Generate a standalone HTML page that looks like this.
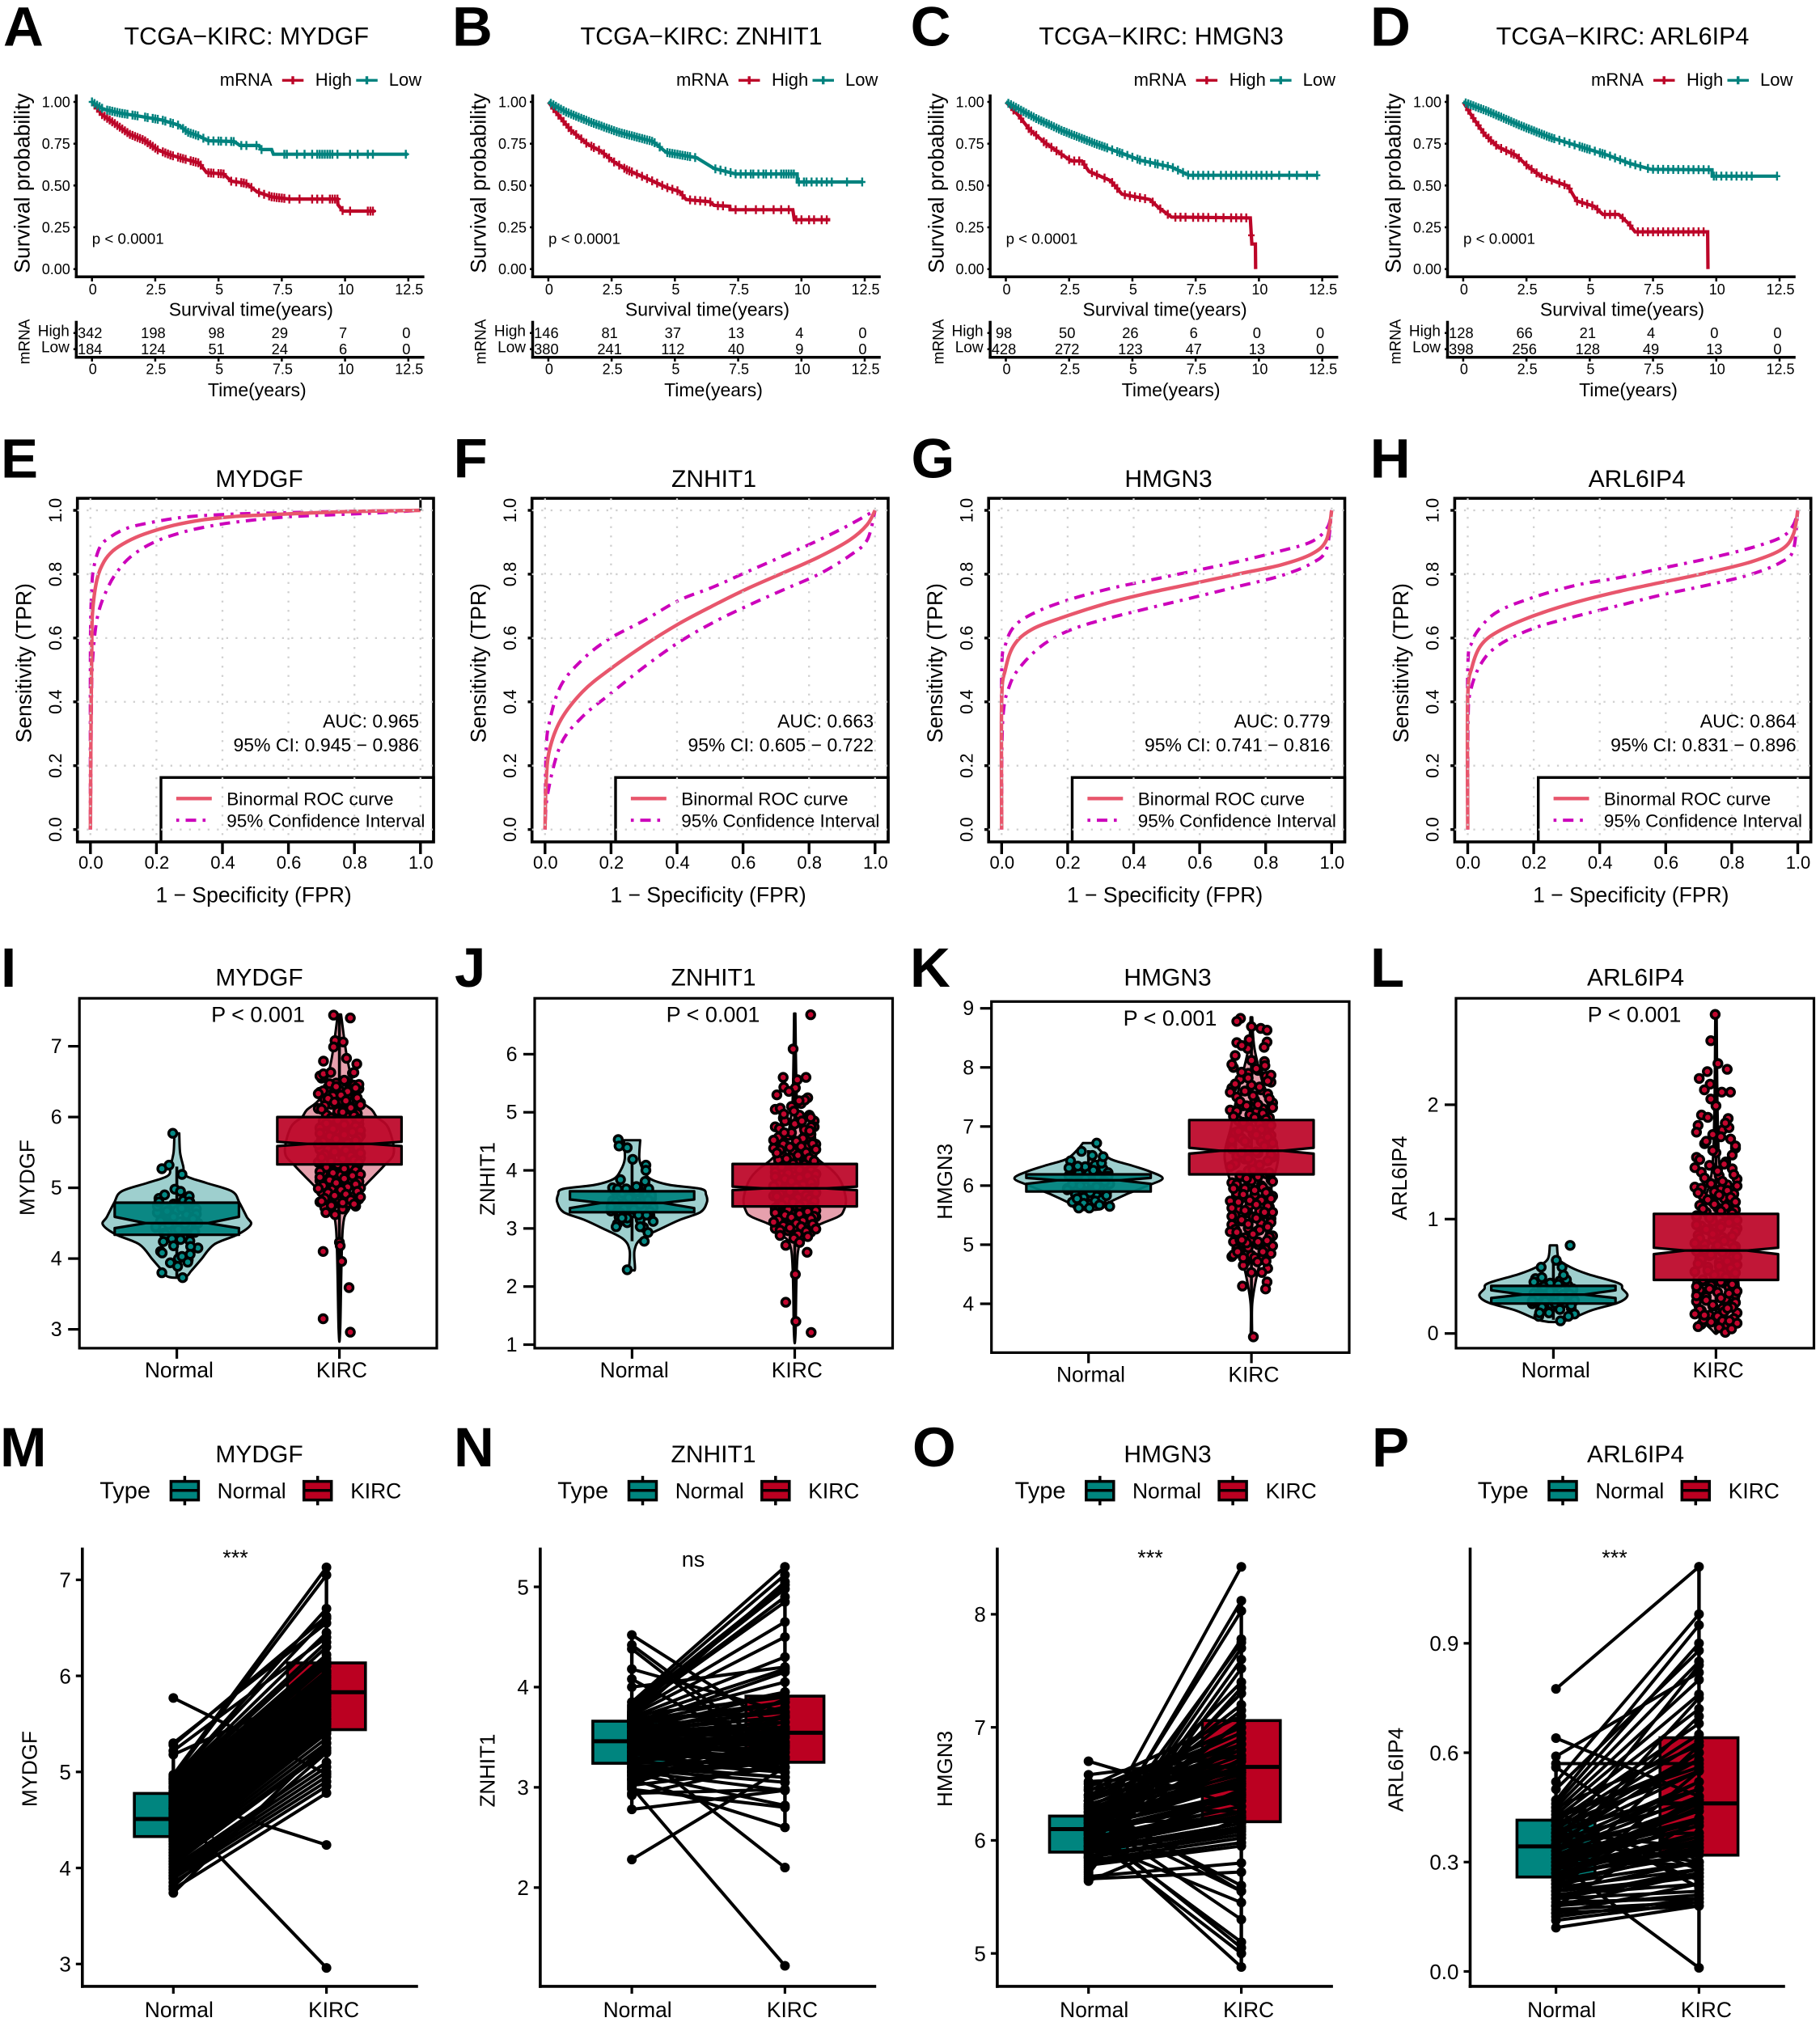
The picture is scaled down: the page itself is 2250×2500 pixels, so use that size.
<!DOCTYPE html>
<html lang="en">
<head>
<meta charset="utf-8">
<title>KIRC gene expression figure</title>
<style>
html,body{margin:0;padding:0;background:#fff;}
svg{display:block;font-family:"Liberation Sans",Arial,sans-serif;}
.ltr{font-weight:bold;font-size:69px;fill:#000;}
.tt{font-size:30px;text-anchor:middle;fill:#000;}
.t1{font-size:30.5px;text-anchor:middle;fill:#000;}
.lg{font-size:22px;fill:#000;}
.axt{font-size:26.5px;text-anchor:middle;fill:#000;}
.axs{font-size:23px;text-anchor:middle;fill:#000;}
.sm{font-size:19px;fill:#000;}
.p1{font-size:18.7px;fill:#000;}
.roc{font-size:22.5px;fill:#000;}
.auc{font-size:23px;fill:#000;text-anchor:end;}
.typ{font-size:29px;fill:#000;}
.key{font-size:26.4px;fill:#000;}
.stat{font-size:27px;text-anchor:middle;fill:#000;}
</style>
</head>
<body>
<svg id="figure" xmlns="http://www.w3.org/2000/svg" width="2250" height="2500" viewBox="0 0 2250 2500">
<rect width="2250" height="2500" fill="#fff"/>

<!-- Row 1: survival -->
<g id="km-a" transform="translate(-1.2,0)">
<text class="ltr" x="5.2" y="56.7">A</text>
<text class="t1" x="306" y="55">TCGA−KIRC: MYDGF</text>
<text class="lg" x="273" y="106">mRNA</text>
<text class="lg" x="391" y="106">High</text>
<text class="lg" x="482" y="106">Low</text>
<text class="axt" transform="translate(37.7,226.5) rotate(-90)">Survival probability</text>
<text class="p1" x="115" y="301.7">p &lt; 0.0001</text>
<text class="axs" x="311.5" y="390.7">Survival time(years)</text>
<text class="sm" text-anchor="middle" transform="translate(37.7,422.5) rotate(-90)">mRNA</text>
<text class="sm" x="87" y="415.7" text-anchor="end">High</text>
<text class="sm" x="87" y="435.7" text-anchor="end">Low</text>
<text class="axs" x="319" y="490">Time(years)</text>
</g>
<g id="km-b" transform="translate(563,0)">
<text class="ltr" x="-4" y="56.7">B</text>
<text class="t1" x="304" y="55">TCGA−KIRC: ZNHIT1</text>
<text class="lg" x="273" y="106">mRNA</text>
<text class="lg" x="391" y="106">High</text>
<text class="lg" x="482" y="106">Low</text>
<text class="axt" transform="translate(37.7,226.5) rotate(-90)">Survival probability</text>
<text class="p1" x="115" y="301.7">p &lt; 0.0001</text>
<text class="axs" x="311.5" y="390.7">Survival time(years)</text>
<text class="sm" text-anchor="middle" transform="translate(37.7,422.5) rotate(-90)">mRNA</text>
<text class="sm" x="87" y="415.7" text-anchor="end">High</text>
<text class="sm" x="87" y="435.7" text-anchor="end">Low</text>
<text class="axs" x="319" y="490">Time(years)</text>
</g>
<g id="km-c" transform="translate(1128.6,0)">
<text class="ltr" x="-3" y="56.7">C</text>
<text class="t1" x="307" y="55">TCGA−KIRC: HMGN3</text>
<text class="lg" x="273" y="106">mRNA</text>
<text class="lg" x="391" y="106">High</text>
<text class="lg" x="482" y="106">Low</text>
<text class="axt" transform="translate(37.7,226.5) rotate(-90)">Survival probability</text>
<text class="p1" x="115" y="301.7">p &lt; 0.0001</text>
<text class="axs" x="311.5" y="390.7">Survival time(years)</text>
<text class="sm" text-anchor="middle" transform="translate(37.7,422.5) rotate(-90)">mRNA</text>
<text class="sm" x="87" y="415.7" text-anchor="end">High</text>
<text class="sm" x="87" y="435.7" text-anchor="end">Low</text>
<text class="axs" x="319" y="490">Time(years)</text>
</g>
<g id="km-d" transform="translate(1694,0)">
<text class="ltr" x="0" y="56.7">D</text>
<text class="t1" x="312" y="55">TCGA−KIRC: ARL6IP4</text>
<text class="lg" x="273" y="106">mRNA</text>
<text class="lg" x="391" y="106">High</text>
<text class="lg" x="482" y="106">Low</text>
<text class="axt" transform="translate(37.7,226.5) rotate(-90)">Survival probability</text>
<text class="p1" x="115" y="301.7">p &lt; 0.0001</text>
<text class="axs" x="311.5" y="390.7">Survival time(years)</text>
<text class="sm" text-anchor="middle" transform="translate(37.7,422.5) rotate(-90)">mRNA</text>
<text class="sm" x="87" y="415.7" text-anchor="end">High</text>
<text class="sm" x="87" y="435.7" text-anchor="end">Low</text>
<text class="axs" x="319" y="490">Time(years)</text>
</g>

<!-- Row 2: ROC -->
<g id="roc-e">
<text class="ltr" x="1" y="590.4">E</text>
<text class="tt" x="320.5" y="602">MYDGF</text>
<text class="auc" x="518" y="899.3">AUC: 0.965</text>
<text class="auc" x="518" y="929.2">95% CI: 0.945 − 0.986</text>
<text class="roc" x="280.2" y="995.7">Binormal ROC curve</text>
<text class="roc" x="280.2" y="1022.5">95% Confidence Interval</text>
<text class="axt" x="313.6" y="1115.5">1 − Specificity (FPR)</text>
<text class="axt" transform="translate(38.3,819.7) rotate(-90)">Sensitivity (TPR)</text>
</g>
<g id="roc-f" transform="translate(562,0)">
<text class="ltr" x="-1.4" y="590.4">F</text>
<text class="tt" x="320.5" y="602">ZNHIT1</text>
<text class="auc" x="518" y="899.3">AUC: 0.663</text>
<text class="auc" x="518" y="929.2">95% CI: 0.605 − 0.722</text>
<text class="roc" x="280.2" y="995.7">Binormal ROC curve</text>
<text class="roc" x="280.2" y="1022.5">95% Confidence Interval</text>
<text class="axt" x="313.6" y="1115.5">1 − Specificity (FPR)</text>
<text class="axt" transform="translate(38.3,819.7) rotate(-90)">Sensitivity (TPR)</text>
</g>
<g id="roc-g" transform="translate(1126.5,0)">
<text class="ltr" x="0" y="590.4">G</text>
<text class="tt" x="318" y="602">HMGN3</text>
<text class="auc" x="518" y="899.3">AUC: 0.779</text>
<text class="auc" x="518" y="929.2">95% CI: 0.741 − 0.816</text>
<text class="roc" x="280.2" y="995.7">Binormal ROC curve</text>
<text class="roc" x="280.2" y="1022.5">95% Confidence Interval</text>
<text class="axt" x="313.6" y="1115.5">1 − Specificity (FPR)</text>
<text class="axt" transform="translate(38.3,819.7) rotate(-90)">Sensitivity (TPR)</text>
</g>
<g id="roc-h" transform="translate(1702.7,0)">
<text class="ltr" x="-9" y="590.4">H</text>
<text class="tt" x="321" y="602">ARL6IP4</text>
<text class="auc" x="518" y="899.3">AUC: 0.864</text>
<text class="auc" x="518" y="929.2">95% CI: 0.831 − 0.896</text>
<text class="roc" x="280.2" y="995.7">Binormal ROC curve</text>
<text class="roc" x="280.2" y="1022.5">95% Confidence Interval</text>
<text class="axt" x="313.6" y="1115.5">1 − Specificity (FPR)</text>
<text class="axt" transform="translate(38.3,819.7) rotate(-90)">Sensitivity (TPR)</text>
</g>

<!-- Row 3: violin + box -->
<g id="box-i">
<text class="ltr" x="1" y="1220">I</text>
<text class="tt" x="320.5" y="1218.3">MYDGF</text>
<text class="axt" style="font-size:26px" transform="translate(42.4,1456) rotate(-90)">MYDGF</text>
</g>
<g id="box-j">
<text class="ltr" x="562" y="1220">J</text>
<text class="tt" x="882" y="1218.3">ZNHIT1</text>
<text class="axt" style="font-size:26px" transform="translate(611.5,1457.5) rotate(-90)">ZNHIT1</text>
</g>
<g id="box-k">
<text class="ltr" x="1125" y="1220">K</text>
<text class="tt" x="1443.5" y="1218.3">HMGN3</text>
<text class="axt" style="font-size:26px" transform="translate(1177,1460.8) rotate(-90)">HMGN3</text>
</g>
<g id="box-l">
<text class="ltr" x="1694" y="1220">L</text>
<text class="tt" x="2022" y="1218.3">ARL6IP4</text>
<text class="axt" style="font-size:26px" transform="translate(1739,1456.6) rotate(-90)">ARL6IP4</text>
</g>

<!-- Row 4: paired -->
<g id="pair-m">
<text class="ltr" x="0" y="1813">M</text>
<text class="tt" x="320.5" y="1807.9">MYDGF</text>
<text class="axt" style="font-size:26px" transform="translate(45.7,2187) rotate(-90)">MYDGF</text>
<text class="stat" x="291" y="1935">***</text>
</g>
<g id="pair-n">
<text class="ltr" x="561" y="1813">N</text>
<text class="tt" x="882" y="1807.9">ZNHIT1</text>
<text class="axt" style="font-size:26px" transform="translate(611.5,2189) rotate(-90)">ZNHIT1</text>
<text class="stat" x="857" y="1937">ns</text>
</g>
<g id="pair-o">
<text class="ltr" x="1128" y="1813">O</text>
<text class="tt" x="1443.5" y="1807.9">HMGN3</text>
<text class="axt" style="font-size:26px" transform="translate(1177,2187) rotate(-90)">HMGN3</text>
<text class="stat" x="1422" y="1935">***</text>
</g>
<g id="pair-p">
<text class="ltr" x="1696" y="1813">P</text>
<text class="tt" x="2022" y="1807.9">ARL6IP4</text>
<text class="axt" style="font-size:26px" transform="translate(1734.6,2188) rotate(-90)">ARL6IP4</text>
<text class="stat" x="1996" y="1935">***</text>
</g>

<g id="type-legend-m">
<text class="typ" x="123.2" y="1852.5">Type</text>
<g><line x1="228.4" x2="228.4" y1="1824.8" y2="1861.2" stroke="#000" stroke-width="3.5"/><rect x="211.4" y="1831.6" width="34" height="23" fill="#00857F" stroke="#000" stroke-width="3.5"/><line x1="211.4" x2="245.4" y1="1842.8" y2="1842.8" stroke="#000" stroke-width="3.5"/></g>
<text class="key" x="268.6" y="1852.5">Normal</text>
<g><line x1="392.7" x2="392.7" y1="1824.8" y2="1861.2" stroke="#000" stroke-width="3.5"/><rect x="375.7" y="1831.6" width="34" height="23" fill="#BB0021" stroke="#000" stroke-width="3.5"/><line x1="375.7" x2="409.7" y1="1842.8" y2="1842.8" stroke="#000" stroke-width="3.5"/></g>
<text class="key" x="433.2" y="1852.5">KIRC</text>
</g>
<g id="type-legend-n" transform="translate(566.1,0)">
<text class="typ" x="123.2" y="1852.5">Type</text>
<g><line x1="228.4" x2="228.4" y1="1824.8" y2="1861.2" stroke="#000" stroke-width="3.5"/><rect x="211.4" y="1831.6" width="34" height="23" fill="#00857F" stroke="#000" stroke-width="3.5"/><line x1="211.4" x2="245.4" y1="1842.8" y2="1842.8" stroke="#000" stroke-width="3.5"/></g>
<text class="key" x="268.6" y="1852.5">Normal</text>
<g><line x1="392.7" x2="392.7" y1="1824.8" y2="1861.2" stroke="#000" stroke-width="3.5"/><rect x="375.7" y="1831.6" width="34" height="23" fill="#BB0021" stroke="#000" stroke-width="3.5"/><line x1="375.7" x2="409.7" y1="1842.8" y2="1842.8" stroke="#000" stroke-width="3.5"/></g>
<text class="key" x="433.2" y="1852.5">KIRC</text>
</g>
<g id="type-legend-o" transform="translate(1131.4,0)">
<text class="typ" x="123.2" y="1852.5">Type</text>
<g><line x1="228.4" x2="228.4" y1="1824.8" y2="1861.2" stroke="#000" stroke-width="3.5"/><rect x="211.4" y="1831.6" width="34" height="23" fill="#00857F" stroke="#000" stroke-width="3.5"/><line x1="211.4" x2="245.4" y1="1842.8" y2="1842.8" stroke="#000" stroke-width="3.5"/></g>
<text class="key" x="268.6" y="1852.5">Normal</text>
<g><line x1="392.7" x2="392.7" y1="1824.8" y2="1861.2" stroke="#000" stroke-width="3.5"/><rect x="375.7" y="1831.6" width="34" height="23" fill="#BB0021" stroke="#000" stroke-width="3.5"/><line x1="375.7" x2="409.7" y1="1842.8" y2="1842.8" stroke="#000" stroke-width="3.5"/></g>
<text class="key" x="433.2" y="1852.5">KIRC</text>
</g>
<g id="type-legend-p" transform="translate(1703.6,0)">
<text class="typ" x="123.2" y="1852.5">Type</text>
<g><line x1="228.4" x2="228.4" y1="1824.8" y2="1861.2" stroke="#000" stroke-width="3.5"/><rect x="211.4" y="1831.6" width="34" height="23" fill="#00857F" stroke="#000" stroke-width="3.5"/><line x1="211.4" x2="245.4" y1="1842.8" y2="1842.8" stroke="#000" stroke-width="3.5"/></g>
<text class="key" x="268.6" y="1852.5">Normal</text>
<g><line x1="392.7" x2="392.7" y1="1824.8" y2="1861.2" stroke="#000" stroke-width="3.5"/><rect x="375.7" y="1831.6" width="34" height="23" fill="#BB0021" stroke="#000" stroke-width="3.5"/><line x1="375.7" x2="409.7" y1="1842.8" y2="1842.8" stroke="#000" stroke-width="3.5"/></g>
<text class="key" x="433.2" y="1852.5">KIRC</text>
</g>
</svg>

<script>
/* ---------- Survival data ---------- */
const kmTimeTicks=[0,2.5,5,7.5,10,12.5];
const kmTimeLabels=['0','2.5','5','7.5','10','12.5'];
const kmSurvTicks=[0,0.25,0.5,0.75,1];
const kmSurvLabels=['0.00','0.25','0.50','0.75','1.00'];

const kmAHighT=[0,.4,.92,1.5,2.06,2.58,3.1,3.67,4.24,4.53,5.2,5.5,6.08,6.54,7.1,7.8,9.7,9.72,9.92,11.18];
const kmAHighS=[1,.924,.868,.806,.771,.715,.682,.658,.634,.577,.569,.526,.513,.461,.432,.419,.419,.385,.347,.347];
const kmAHighCensor=[.1,.2,.3,.4,.5,.6,.7,.8,.9,1,1.1,1.2,1.3,1.4,1.5,1.6,1.7,1.8,1.9,2,2.1,2.2,2.3,2.4,2.5,2.6,2.8,2.9,3,3.1,3.2,3.4,3.5,3.6,3.7,3.9,4,4.1,4.2,4.3,4.6,4.7,4.8,5,5.1,5.2,5.5,5.7,5.9,6,6.1,6.3,6.6,6.8,7,7.1,7.2,7.3,7.4,7.5,7.6,7.8,8.2,8.7,8.9,9.1,9.4,9.5,9.6,9.7,9.9,10.2,10.9,11,11.1];
const kmALowT=[0,.46,1.15,1.83,2.75,3.44,3.78,4.24,4.59,5.62,5.85,6.6,6.7,7.1,7.17,12.48];
const kmALowS=[1,.956,.932,.916,.892,.86,.819,.795,.768,.763,.739,.739,.715,.715,.687,.687];
const kmALowCensor=[0,.1,.2,.3,.4,.6,.7,.8,.9,1,1.1,1.2,1.3,1.4,1.6,1.7,1.8,2.1,2.2,2.4,2.5,2.6,2.8,2.9,3.1,3.2,3.4,3.6,3.7,3.8,3.9,4,4.1,4.2,4.4,4.6,4.8,5,5.1,5.3,5.5,5.6,5.9,6.1,6.5,6.7,7.6,7.7,8.1,8.4,8.7,8.9,9,9.1,9.2,9.3,9.4,9.5,9.7,10.2,10.5,10.9,11.1,12.4];
const kmARiskHigh=[342,198,98,29,7,0];
const kmARiskLow=[184,124,51,24,6,0];

const kmBHighT=[0,.34,.86,1.55,2.07,2.59,3.1,3.97,4.66,5.17,5.45,6.38,6.55,7.17,7.18,9.66,9.72,11.14];
const kmBHighS=[1,.932,.835,.747,.706,.642,.594,.537,.489,.465,.416,.403,.381,.376,.355,.355,.295,.295];
const kmBHighCensor=[.2,.4,.6,.8,.9,1.1,1.3,1.5,1.7,1.8,2,2.2,2.4,2.6,2.8,3,3.1,3.2,3.3,3.5,3.7,3.9,4.1,4.3,4.5,4.7,4.9,5.1,5.3,5.6,5.8,6,6.2,6.4,6.7,6.9,7.4,7.8,8.2,8.5,8.9,9.2,9.5,9.8,10,10.3,10.5,10.8,11];
const kmBLowT=[0,.69,1.72,2.76,4.14,4.66,5.86,6.55,7.41,9.83,9.84,12.41];
const kmBLowS=[1,.94,.876,.819,.763,.698,.666,.602,.569,.569,.521,.521];
const kmBLowCensor=[.1,.2,.3,.4,.5,.6,.7,.8,.9,1,1.1,1.2,1.3,1.4,1.5,1.6,1.7,1.8,1.9,2,2.1,2.2,2.3,2.4,2.5,2.6,2.7,2.8,2.9,3,3.1,3.2,3.3,3.4,3.5,3.6,3.7,3.8,3.9,4,4.1,4.2,4.4,4.7,4.8,4.9,5,5.1,5.2,5.3,5.4,5.5,5.6,5.8,6.6,6.8,7,7.2,7.4,7.6,7.8,8,8.1,8.3,8.5,8.6,8.8,9,9.2,9.3,9.4,9.5,9.6,9.7,9.9,10.1,10.2,10.4,10.6,10.8,11,11.2,11.8,12.4];
const kmBRiskHigh=[146,81,37,13,4,0];
const kmBRiskLow=[380,241,112,40,9,0];

const kmCHighT=[0,.52,.93,1.55,2.24,2.59,3,3.28,4.14,4.59,5.69,6.03,6.55,9.66,9.72,9.86,9.87];
const kmCHighS=[1,.916,.835,.755,.682,.647,.647,.585,.529,.448,.416,.368,.311,.306,.15,.15,0];
const kmCHighCensor=[.3,.6,.9,1,1.2,1.5,1.6,1.8,2,2.2,2.5,2.7,2.9,3.1,3.4,3.6,3.9,4.2,4.4,4.7,4.9,5.1,5.3,5.5,5.8,6.1,6.4,6.7,6.9,7.1,7.4,7.6,7.8,8,8.3,8.6,8.9,9.1,9.3,9.5,9.7];
const kmCLowT=[0,1.21,2.24,3.45,4.48,5.34,6.55,7.24,12.34];
const kmCLowS=[1,.9,.827,.755,.698,.65,.61,.561,.561];
const kmCLowCensor=[.1,.2,.3,.4,.5,.6,.7,.8,.9,1,1.1,1.2,1.3,1.4,1.5,1.6,1.7,1.8,1.9,2,2.1,2.2,2.3,2.4,2.5,2.6,2.7,2.8,2.9,3,3.1,3.2,3.3,3.4,3.5,3.6,3.7,3.8,3.9,4,4.2,4.4,4.5,4.6,4.8,5,5.2,5.3,5.5,5.7,5.9,6,6.2,6.4,6.6,6.8,7,7.2,7.4,7.6,7.8,8,8.2,8.5,8.7,8.9,9.1,9.3,9.5,9.7,9.9,10.1,10.3,10.5,10.8,11.2,11.5,11.9,12.3];
const kmCRiskHigh=[98,50,26,6,0,0];
const kmCRiskLow=[428,272,123,47,13,0];

const kmDHighT=[0,.34,.86,1.38,2.07,2.59,3.1,4.14,4.48,5.17,5.52,6.14,6.55,6.79,9.66,9.67];
const kmDHighS=[1,.916,.803,.73,.682,.61,.553,.497,.408,.376,.327,.327,.271,.223,.223,0];
const kmDHighCensor=[.2,.4,.6,.8,1,1.1,1.3,1.5,1.7,1.9,2,2.2,2.5,2.7,2.9,3.1,3.3,3.5,3.8,4,4.2,4.5,4.7,4.9,5.1,5.3,5.6,5.8,6,6.3,6.6,6.9,7.1,7.3,7.5,7.7,7.9,8.1,8.3,8.5,8.7,8.9,9.1,9.3,9.5];
const kmDLowT=[0,1.03,2.24,3.45,4.66,5.69,6.55,7.41,9.83,9.84,12.41];
const kmDLowS=[1,.94,.86,.787,.731,.682,.634,.597,.594,.556,.556];
const kmDLowCensor=[.1,.2,.3,.4,.5,.6,.7,.8,.9,1,1.1,1.2,1.3,1.4,1.5,1.6,1.7,1.8,1.9,2,2.1,2.2,2.3,2.4,2.5,2.6,2.7,2.8,2.9,3,3.1,3.2,3.3,3.4,3.5,3.6,3.8,4,4.2,4.4,4.6,4.7,4.8,4.9,5,5.2,5.4,5.5,5.6,5.8,6,6.2,6.4,6.6,6.8,7,7.3,7.5,7.7,7.9,8.1,8.3,8.5,8.7,8.9,9.1,9.3,9.5,9.7,9.9,10,10.2,10.4,10.6,10.8,11,11.2,11.4,12.4];
const kmDRiskHigh=[128,66,21,4,0,0];
const kmDRiskLow=[398,256,128,49,13,0];

/* ---------- ROC data ---------- */
const rocTicks=[0,.2,.4,.6,.8,1];
const rocLabels=['0.0','0.2','0.4','0.6','0.8','1.0'];

const rocEFpr=[0,.002,.004,.006,.019,.041,.068,.111,.164,.252,.339,.427,.515,.603,.778,1];
const rocETpr=[0,.38,.55,.674,.78,.839,.873,.902,.926,.953,.97,.98,.985,.989,.996,1];
const rocEUpFpr=[0,0,.004,.01,.028,.054,.111,.199,.296,.427,.559,.778,1];
const rocEUpTpr=[0,.577,.752,.82,.883,.912,.944,.965,.98,.988,.992,.997,1];
const rocELoFpr=[0,.003,.006,.015,.028,.05,.076,.12,.19,.278,.375,.471,.603,.734,.866,1];
const rocELoTpr=[0,.383,.519,.626,.693,.752,.8,.853,.899,.931,.953,.967,.98,.986,.992,1];

const rocFFpr=[0,.003,.013,.048,.114,.194,.3,.406,.512,.618,.724,.83,.923,.976,1];
const rocFTpr=[0,.14,.247,.344,.432,.5,.577,.645,.703,.757,.805,.854,.907,.955,1];
const rocFUpFpr=[0,.003,.013,.048,.114,.194,.3,.406,.512,.618,.724,.83,.923,1];
const rocFUpTpr=[0,.238,.335,.451,.533,.597,.655,.718,.761,.81,.858,.907,.955,1];
const rocFLoFpr=[0,.008,.048,.114,.194,.3,.406,.512,.618,.724,.83,.923,.976,1];
const rocFLoTpr=[0,.112,.267,.354,.422,.509,.587,.65,.703,.752,.8,.858,.907,1];

const rocGFpr=[0,0,.011,.037,.09,.183,.316,.448,.581,.714,.846,.939,.984,1];
const rocGTpr=[0,.403,.5,.577,.626,.664,.708,.742,.771,.8,.829,.863,.907,1];
const rocGUpFpr=[0,0,.011,.037,.09,.183,.316,.448,.581,.714,.846,.939,.987,1];
const rocGUpTpr=[0,.49,.577,.635,.674,.713,.752,.781,.81,.839,.873,.902,.946,1];
const rocGLoFpr=[0,.003,.024,.064,.13,.21,.316,.448,.581,.714,.846,.939,.984,1];
const rocGLoTpr=[0,.335,.451,.519,.582,.626,.66,.694,.727,.761,.795,.834,.878,1];

const rocHFpr=[0,0,.013,.04,.093,.198,.331,.463,.595,.728,.86,.952,.987,1];
const rocHTpr=[0,.412,.509,.577,.621,.669,.713,.747,.776,.805,.839,.878,.926,1];
const rocHUpFpr=[0,0,.013,.04,.093,.198,.331,.463,.595,.728,.86,.952,.987,1];
const rocHUpTpr=[0,.5,.587,.635,.684,.727,.766,.79,.82,.849,.883,.917,.955,1];
const rocHLoFpr=[0,.001,.008,.04,.093,.198,.331,.463,.595,.728,.86,.952,.987,1];
const rocHLoTpr=[0,.335,.432,.519,.577,.63,.669,.703,.737,.766,.8,.839,.878,1];

/* ---------- Violin + box data ---------- */
const boxCategories=['Normal','KIRC'];
const sharedJitter=[-.11,.04,-.02,.09,-.07,.12,0,-.12,.06,-.04,.1,-.09,.02,.13,-.05,.07,-.13,.03,-.01,.11,-.08,.05,-.03,.08,-.1,.01,.12,-.06,.06,-.12,.1,-.02,.04,-.09,.13,-.04,0];
const sharedJitter2=[.08,-.12,.03,-.06,.12,-.02,.1,-.1,.05,-.13,.01,.11,-.07,.04,-.03,.13,-.09,.07,-.11,.02,.09,-.05,.12,-.01,.06,-.08,.03,.1,-.12,-.04,.13];

const iTicks=[3,4,5,6,7];
const iNormalBox=[4.336,4.43,4.50,4.59,4.79];
const iKircBox=[5.33,5.59,5.62,5.65,6.0];
const iNormalWhisker=[3.74,5.3];
const iKircWhisker=[2.96,7.44];
const iNormalViolinV=[5.77,5.5,5.3,5.17,5.07,4.95,4.79,4.59,4.48,4.34,4.2,3.99,3.83,3.74];
const iNormalViolinW=[.015,.02,.04,.055,.18,.34,.385,.43,.455,.375,.23,.15,.09,.05];
const iKircViolinV=[7.45,6.8,6.3,6.1,6,5.85,5.5,5.3,4.95,4.7,4.4,3];
const iKircViolinW=[.01,.05,.11,.2,.23,.3,.335,.27,.125,.06,.02,.005];
const iNormalTail=[5.77,5.32,5.27,5.19,4.98,4.9,4.88,4.95,4.8,4.8,4.24,4.27,4.18,4.17,4.03,4.06,3.94,3.95,3.89,3.8,3.73];
const iNormalTailJit=[-.025,-.048,-.092,.032,-.012,-.075,.076,.023,-.11,.076,-.083,.023,-.02,.085,.032,.082,-.04,.067,.005,-.092,.036];
const iNormalBulk=[4.85,4.82,4.77,4.75,4.72,4.7,4.68,4.65,4.62,4.6,4.58,4.55,4.52,4.5,4.48,4.46,4.44,4.42,4.4,4.38,4.36,4.33,4.3,4.25,4.1,4];
const iNormalBulk2=[4.8,4.74,4.71,4.67,4.63,4.59,4.56,4.53,4.49,4.45,4.41,4.37,4.34,4.31,4.28,4.15,4.08,3.98];
const iKircTail=[7.44,7.4,7.08,7.06,6.99,6.79,6.83,6.75,6.61,6.63,6.63,4.65,4.62,4.23,4.18,4.1,3.96,3.59,3.15,2.96];
const iKircTailJit=[-.036,.067,-.027,.023,-.036,-.098,.044,.107,-.098,-.053,.089,-.083,-.027,0,.005,-.1,.014,.059,-.1,.067];
const iKircBulk=[6.55,6.5,6.48,6.45,6.42,6.4,6.38,6.35,6.32,6.3,6.28,6.25,6.22,6.2,6.18,6.15,6.12,6.1,6.08,6.05,6.03,6,5.98,5.96,5.94,5.92,5.9,5.88,5.86,5.84,5.82,5.8,5.78,5.76,5.74,5.72,5.7,5.68,5.66,5.64,5.62,5.6,5.58,5.56,5.54,5.52,5.5,5.48,5.46,5.44,5.42,5.4,5.38,5.36,5.34,5.32,5.3,5.28,5.26,5.24,5.22,5.2,5.18,5.16,5.14,5.12,5.1,5.08,5.06,5.04,5.02,5,4.98,4.96,4.94,4.92,4.9,4.88,4.86,4.84,4.82,4.8,4.78,4.76,4.74,4.72,4.7];
const iKircBulk2=[6.62,6.58,6.52,6.47,6.46,6.43,6.41,6.37,6.36,6.33,6.31,6.27,6.26,6.23,6.21,6.17,6.16,6.13,6.11,6.07,6.02,5.99,5.97,5.95,5.93,5.91,5.89,5.87,5.85,5.83,5.81,5.79,5.77,5.75,5.73,5.71,5.69,5.67,5.65,5.63,5.61,5.59,5.57,5.55,5.53,5.51,5.49,5.47,5.45,5.43,5.41,5.39,5.37,5.35,5.33,5.31,5.29,5.27,5.25,5.23,5.21,5.19,5.17,5.15,5.13,5.11,5.09,5.07,5.05,5.03,5.01,4.99,4.97,4.95,4.93,4.91,4.89,4.87,4.85,4.83,4.81,4.79,4.77,4.75];

const jTicks=[1,2,3,4,5,6];
const jNormalBox=[3.28,3.35,3.44,3.5,3.64];
const jKircBox=[3.38,3.66,3.69,3.72,4.11];
const jNormalWhisker=[2.78,4.2];
const jKircWhisker=[1.2,6.68];
const jNormalViolinV=[4.52,4.2,4,3.85,3.75,3.68,3.58,3.45,3.28,3.15,3,2.82,2.62,2.31,2.28];
const jNormalViolinW=[.05,.045,.07,.115,.23,.425,.455,.46,.42,.295,.18,.055,.015,.018,.008];
const jKircViolinV=[6.7,5.5,5,4.5,4.2,4,3.8,3.5,3.3,3.2,3.05,2.9,2.6,1.2];
const jKircViolinW=[.004,.01,.02,.055,.14,.23,.285,.315,.3,.265,.14,.09,.02,.005];
const jNormalTail=[4.53,4.42,4.39,4.19,4.09,4,3.84,3.81,3.72,3.68,3.68,3.68,3.18,3.23,3.03,3.03,2.93,2.78,2.29];
const jNormalTailJit=[-.085,-.08,-.03,.004,.085,.085,-.071,.08,.027,-.036,-.089,.103,-.062,.089,-.098,.05,.098,.075,-.03];
const jNormalBulk=[3.66,3.63,3.6,3.58,3.55,3.52,3.5,3.48,3.46,3.44,3.42,3.4,3.38,3.36,3.34,3.32,3.3,3.27,3.25,3.22,3.2,3.15,3.1];
const jNormalBulk2=[3.75,3.7,3.64,3.61,3.57,3.53,3.49,3.45,3.41,3.37,3.33,3.29,3.26,3.23,3.18,3.12,3.08,3.02];
const jKircTail=[6.68,6.09,5.6,5.6,5.56,5.43,5.42,5.36,5.21,5.2,5.07,5.02,4.97,4.91,4.85,4.72,4.75,4.65,4.68,2.88,2.86,2.83,2.71,2.76,2.59,2.21,1.73,1.4,1.21];
const jKircTailJit=[.098,-.01,-.071,.069,.016,-.067,.004,-.036,.062,.027,-.089,-.005,-.067,.098,.044,-.094,.101,-.064,.092,-.09,.08,-.005,-.055,.03,.076,.004,-.055,.007,.101];
const jKircBulk=[5.3,5.15,5.1,4.95,4.9,4.85,4.8,4.75,4.7,4.6,4.55,4.5,4.48,4.45,4.42,4.4,4.38,4.35,4.32,4.3,4.28,4.25,4.22,4.2,4.18,4.15,4.12,4.1,4.08,4.05,4.03,4,3.98,3.96,3.94,3.92,3.9,3.88,3.86,3.84,3.82,3.8,3.78,3.76,3.74,3.72,3.7,3.68,3.66,3.64,3.62,3.6,3.58,3.56,3.54,3.52,3.5,3.48,3.46,3.44,3.42,3.4,3.38,3.36,3.34,3.32,3.3,3.28,3.26,3.24,3.22,3.2,3.18,3.16,3.14,3.12,3.1,3.08,3.06,3.04,3.02,3,2.98,2.96,2.94,2.92,2.9];
const jKircBulk2=[5.25,5.05,4.95,4.85,4.75,4.65,4.62,4.57,4.55,4.52,4.5,4.46,4.45,4.41,4.4,4.36,4.35,4.31,4.3,4.26,4.21,4.2,4.16,4.11,4.1,4.06,4.01,4,3.97,3.95,3.93,3.91,3.89,3.87,3.85,3.83,3.81,3.79,3.77,3.75,3.73,3.71,3.69,3.67,3.65,3.63,3.61,3.59,3.57,3.55,3.53,3.51,3.49,3.47,3.45,3.43,3.41,3.39,3.37,3.35,3.33,3.31,3.29,3.27,3.25,3.23,3.21,3.19,3.17,3.15,3.13,3.11,3.09,3.07,3.05,3.03,3.01,2.99,2.97,2.95];

const kTicks=[4,5,6,7,8,9];
const kNormalBox=[5.9,6.03,6.09,6.13,6.19];
const kKircBox=[6.19,6.54,6.59,6.64,7.11];
const kNormalWhisker=[5.62,6.6];
const kKircWhisker=[3.44,8.83];
const kNormalViolinV=[6.72,6.6,6.45,6.34,6.24,6.12,5.99,5.85,5.7,5.6];
const kNormalViolinW=[.035,.07,.135,.265,.375,.455,.355,.23,.115,.07];
const kKircViolinV=[8.85,8.3,7.5,7,6.5,6,5.5,5,4.5,4,3.45];
const kKircViolinW=[.005,.02,.09,.125,.165,.125,.105,.08,.035,.005,.004];
const kNormalTail=[6.72,6.58,6.51,6.49,6.33,5.62,5.62,5.67];
const kNormalTailJit=[.05,-.043,.023,.09,-.066,-.06,.005,.067];
const kNormalBulk=[6.42,6.35,6.32,6.28,6.25,6.22,6.2,6.17,6.15,6.13,6.1,6.08,6.05,6.03,6,5.97,5.95,5.92,5.9,5.87,5.85,5.82,5.8,5.76,5.72,5.68];
const kNormalBulk2=[6.38,6.3,6.26,6.21,6.16,6.12,6.07,6.02,5.98,5.93,5.88,5.83,5.78,5.74,5.7,5.65];
const kKircTail=[8.83,8.78,8.69,8.66,8.63,8.42,8.43,8.34,8.32,8.37,8.47,8.2,8.12,8.03,5.21,5.08,5.07,4.88,4.78,4.71,4.53,4.53,4.37,4.3,4.25,3.44];
const kKircTailJit=[-.067,-.09,0,.057,.096,-.09,.096,.078,-.023,-.059,-.014,-.1,0,.083,-.09,-.059,.096,-.085,-.05,.037,0,.064,.096,-.055,.087,.012];
const kKircBulk=[8,7.95,7.9,7.85,7.8,7.75,7.7,7.65,7.62,7.6,7.55,7.5,7.45,7.4,7.35,7.3,7.28,7.25,7.2,7.15,7.1,7.05,7,6.95,6.9,6.88,6.85,6.8,6.75,6.7,6.65,6.6,6.55,6.5,6.48,6.45,6.4,6.35,6.3,6.25,6.2,6.15,6.1,6.08,6.05,6,5.95,5.9,5.87,5.84,5.82,5.8,5.77,5.74,5.7,5.67,5.64,5.6,5.57,5.54,5.52,5.5,5.47,5.44,5.4,5.36,5.34,5.32,5.28,5.24,5.2,5.15,5.12,5.1,5.05,5,4.95,4.92,4.9,4.85,4.82,4.8,4.75,4.7,4.6];
const kKircBulk2=[8.1,8.05,7.98,7.92,7.87,7.82,7.77,7.72,7.67,7.58,7.52,7.47,7.42,7.37,7.35,7.32,7.26,7.22,7.17,7.15,7.12,7.07,7.02,6.97,6.95,6.92,6.86,6.82,6.77,6.75,6.72,6.67,6.62,6.57,6.55,6.52,6.46,6.42,6.37,6.35,6.32,6.27,6.22,6.17,6.15,6.12,6.07,6.02,5.97,5.95,5.92,5.88,5.85,5.78,5.75,5.75,5.72,5.68,5.65,5.62,5.58,5.55,5.55,5.48,5.45,5.42,5.38,5.35,5.3,5.26,5.25,5.22,5.18,5.13,5.08,5.05,5.03,4.98,4.93,4.88,4.83,4.78,4.72,4.65];

const lTicks=[0,1,2];
const lNormalBox=[.262,.31,.34,.378,.416];
const lKircBox=[.468,.694,.725,.75,1.046];
const lNormalWhisker=[.12,.66];
const lKircWhisker=[0,2.79];
const lNormalViolinV=[.77,.65,.58,.52,.44,.39,.33,.27,.2,.11];
const lNormalViolinW=[.022,.035,.105,.21,.4,.425,.455,.4,.23,.07];
const lKircViolinV=[2.8,1.5,1.1,.8,.5,.3,.15,.03,0];
const lKircViolinW=[.004,.02,.09,.115,.135,.14,.105,.025,.005];
const lNormalTail=[.77,.64,.58,.58,.51,.49,.18,.18,.15,.11];
const lNormalTailJit=[.103,.018,-.075,.053,.062,-.071,-.085,-.027,.092,.044];
const lNormalBulk=[.48,.46,.44,.42,.4,.38,.36,.35,.34,.33,.32,.31,.3,.29,.28,.27,.26,.25,.24,.22,.2];
const lNormalBulk2=[.47,.45,.43,.41,.39,.37,.345,.325,.305,.285,.265,.245,.23,.21,.19,.17,.15];
const lKircTail=[2.79,2.56,2.36,2.31,2.29,2.23,2.18,2.13,2.11,2.11,2.05,1.99,1.91,1.89,1.88,1.84,.01,.04,.11,.12,.16,.22];
const lKircTailJit=[-.005,-.032,.012,.069,-.053,-.103,-.036,-.071,.036,.089,-.032,0,-.089,-.05,.075,.057,.057,.096,.083,-.076,-.071,.071];
const lKircBulk=[1.82,1.78,1.74,1.7,1.66,1.62,1.58,1.54,1.5,1.47,1.44,1.41,1.38,1.35,1.32,1.3,1.28,1.26,1.24,1.22,1.2,1.18,1.16,1.14,1.12,1.1,1.08,1.06,1.04,1.02,1,.98,.96,.94,.92,.9,.88,.86,.84,.82,.8,.78,.76,.74,.72,.7,.68,.66,.64,.62,.6,.58,.56,.54,.52,.5,.48,.46,.44,.42,.4,.38,.36,.34,.32,.3,.28,.26,.24,.22,.2,.18,.16,.14];
const lKircBulk2=[1.8,1.76,1.72,1.68,1.64,1.6,1.56,1.52,1.48,1.45,1.42,1.39,1.36,1.33,1.31,1.29,1.27,1.25,1.23,1.21,1.19,1.17,1.15,1.13,1.11,1.09,1.07,1.05,1.03,1.01,.99,.97,.95,.93,.91,.89,.87,.85,.83,.81,.79,.77,.75,.73,.71,.69,.67,.65,.63,.61,.59,.57,.55,.53,.51,.49,.47,.45,.43,.41,.39,.37,.35,.33,.31,.29,.27,.25,.23,.21,.19,.17,.15,.13,.12,.11,.1,.09,.08,.07,.06,.05];

/* ---------- Paired data ---------- */
const mTicks=[3,4,5,6,7];
const mTickLabels=['3','4','5','6','7'];
const mNormalBox=[4.327,4.51,4.776];
const mKircBox=[5.44,5.83,6.135];
const mNormalWhisker=[3.74,5.3];
const mKircWhisker=[4.78,7.13];
const mNormal=[5.77,5.30,5.28,5.22,5.18,4.97,4.95,4.93,4.92,4.90,4.88,4.85,4.83,4.80,4.78,4.76,4.74,4.72,4.70,4.68,4.66,4.64,4.62,4.60,4.58,4.56,4.54,4.52,4.50,4.48,4.46,4.44,4.42,4.40,4.38,4.36,4.34,4.32,4.30,4.28,4.25,4.22,4.19,4.16,4.13,4.10,4.07,4.04,4.01,3.98,3.95,3.92,3.89,3.85,3.81,3.78,3.74,4.75,4.62,4.78];
const mKirc=[4.98,6.55,6.62,6.40,5.9,7.13,7.05,6.70,6.60,6.45,6.35,6.30,6.22,6.18,6.15,6.12,6.10,6.05,6.03,6.00,5.98,5.95,5.93,5.90,5.88,5.85,5.82,5.80,5.78,5.75,5.72,5.70,5.68,5.65,5.62,5.60,5.58,5.55,5.52,5.50,5.48,5.45,5.42,5.40,5.35,5.30,5.25,5.22,5.10,5.05,5.00,4.95,4.90,4.85,5.20,4.78,5.30,4.24,2.96,5.55];

const nTicks=[2,3,4,5];
const nTickLabels=['2','3','4','5'];
const nNormalBox=[3.24,3.46,3.66];
const nKircBox=[3.25,3.545,3.91];
const nNormalWhisker=[2.78,4.52];
const nKircWhisker=[2.6,5.2];
const nNormal=[4.52,4.42,4.38,4.18,4.08,4.00,3.85,3.82,3.80,3.78,3.76,3.74,3.72,3.70,3.68,3.66,3.64,3.62,3.60,3.58,3.56,3.54,3.52,3.50,3.48,3.46,3.44,3.42,3.40,3.38,3.36,3.34,3.32,3.30,3.28,3.26,3.24,3.22,3.20,3.18,3.16,3.14,3.12,3.10,3.08,3.06,3.04,3.02,3.00,2.98,2.94,2.92,2.78,2.28,3.70,3.40,3.25,3.62,3.55,3.75,3.72,3.68,3.64,3.6,3.56,3.52,3.48,3.44,3.4,3.36,3.32,3.28,3.24,3.2,3.16,3.12,3.08,3.5,3.45,3.55,3.35,3.3,3.65,3.25,3.15];
const nKirc=[3.55,3.30,3.20,3.75,3.25,4.20,5.20,5.12,5.02,4.98,4.85,4.65,4.50,4.30,4.18,4.05,3.95,3.85,3.75,3.70,3.95,3.65,3.60,3.55,3.50,3.45,3.42,3.38,3.35,3.30,3.28,3.25,3.52,3.20,3.60,3.15,3.70,3.10,3.10,3.05,2.97,2.82,3.40,3.30,2.60,3.45,3.50,3.20,1.22,2.80,2.98,3.25,2.97,3.20,5.05,2.20,3.58,4.15,3.85,4.9,3.9,3.75,3.85,3.45,3.7,3.3,3.6,3.5,3.65,3.4,3.55,3.35,3.5,3.3,3.45,3.25,3.35,3.8,3.15,3.6,3.72,3.2,3.42,3.88,3.58];

const oTicks=[5,6,7,8];
const oTickLabels=['5','6','7','8'];
const oNormalBox=[5.896,6.10,6.215];
const oKircBox=[6.165,6.65,7.06];
const oNormalWhisker=[5.64,6.58];
const oKircWhisker=[4.88,8.12];
const oNormal=[6.70,6.58,6.52,6.50,6.47,6.44,6.40,6.38,6.35,6.32,6.30,6.28,6.26,6.24,6.22,6.20,6.18,6.16,6.14,6.12,6.10,6.08,6.06,6.04,6.02,6.00,5.98,5.96,5.94,5.92,5.90,5.88,5.86,5.84,5.82,5.80,5.78,5.76,5.74,5.72,5.70,5.68,5.66,5.64,6.20,6.10,6.05,6.00,6.15,6.25,6.35,6.45,5.95,5.90,6.12,6.18,6.08,6.22,6.02,5.85,6.4,6.3,6.25,6.2,6.15,6.1,6.05,6,5.95,5.9,5.85,6.35,6.28,6.18,6.08,6.02,5.92,5.88,6.12,6.22,5.98,6.32,6.06,5.94,6.16];
const oKirc=[6.30,6.75,6.60,6.45,7.1,7.0,6.95,6.85,6.80,6.70,5.60,6.65,6.62,6.58,5.30,6.52,6.50,6.48,5.05,6.42,4.88,6.40,6.35,5.00,6.30,5.45,6.25,6.22,6.20,6.15,6.12,8.03,6.08,8.12,6.02,5.98,5.95,7.78,7.70,7.60,7.52,5.80,5.72,6.20,5.55,5.10,7.40,7.30,7.20,6.90,5.55,6.60,8.42,7.75,7.15,6.55,7.05,6.35,6.85,7.35,7.0,6.9,6.8,6.7,6.6,6.5,6.4,6.3,6.2,6.1,6.05,6.95,6.75,6.55,6.35,6.25,6.15,6.45,6.65,6.85,7.05,6.25,6.72,6.38,6.18];

const pTicks=[0,.3,.6,.9];
const pTickLabels=['0.0','0.3','0.6','0.9'];
const pNormalBox=[.259,.343,.415];
const pKircBox=[.319,.461,.641];
const pNormalWhisker=[.12,.59];
const pKircWhisker=[.01,1.11];
const pNormal=[.775,.64,.59,.57,.56,.52,.50,.47,.46,.45,.44,.43,.42,.41,.40,.39,.38,.37,.36,.35,.34,.33,.32,.31,.30,.29,.28,.27,.26,.25,.24,.23,.22,.21,.20,.19,.18,.17,.16,.15,.14,.12,.30,.32,.35,.25,.28,.38,.42,.22,.18,.33,.27,.40,.29,.24,.36,.31,.44,.20,.45,.42,.4,.38,.36,.34,.32,.3,.28,.26,.24,.22,.2,.18,.16,.35,.33,.29,.27,.37,.31,.25,.23,.43,.21];
const pKirc=[1.11,.48,.82,.57,.30,.98,.88,.95,.90,.85,.80,.76,.72,.68,.65,.63,.60,.58,.55,.52,.50,.48,.46,.44,.42,.40,.38,.37,.34,.32,.30,.28,.26,.24,.22,.20,.21,.19,.18,.20,.19,.18,.01,.75,.84,.62,.45,.34,.28,.55,.42,.70,.36,.25,.33,.47,.30,.41,.23,.27,.62,.58,.55,.5,.47,.44,.42,.4,.37,.35,.33,.3,.28,.27,.24,.6,.52,.46,.32,.38,.29,.48,.36,.56,.26];

/* ---------- Drawing ---------- */
const NS='http://www.w3.org/2000/svg';
const RED='#BC0528',TEAL='#00827E',CORAL='#E8566C',MAGENTA='#CC00BB';
function linear(d0,d1,r0,r1){return v=>r0+(v-d0)*(r1-r0)/(d1-d0);}
function mk(parent,tag,attrs,text){
  const el=document.createElementNS(NS,tag);
  for(const k in attrs)el.setAttribute(k,attrs[k]);
  if(text!==undefined)el.textContent=text;
  parent.appendChild(el);
  return el;
}
function axisLine(parent,x1,y1,x2,y2,w,name){
  const el=mk(parent,'line',{x1:x1,y1:y1,x2:x2,y2:y2,stroke:'#000','stroke-width':w});
  
  
  return el;
}
function label(parent,x,y,str,size,anchor,name,rot){
  const attrs={'font-size':size,'text-anchor':anchor,fill:'#000'};
  if(rot){attrs.transform='translate('+x+','+y+') rotate(-90)';}else{attrs.x=x;attrs.y=y;}
  const el=mk(parent,'text',attrs,str);
  
  
  return el;
}
function survAt(t,ts,ss){
  if(t<=ts[0])return ss[0];
  for(let i=1;i<ts.length;i++){
    if(t<=ts[i]){const f=ts[i]===ts[i-1]?1:(t-ts[i-1])/(ts[i]-ts[i-1]);return ss[i-1]+f*(ss[i]-ss[i-1]);}
  }
  return ss[ss.length-1];
}
function drawKm(id,high,low){
  const g=document.getElementById(id);
  const X=linear(0,12.5,114.9,506),Y=linear(0,1,332.7,126);
  axisLine(g,95.5,116.7,95.5,344,3.5,'y-axis-line');
  axisLine(g,93.8,342.3,525.8,342.3,3.5,'x-axis-line');
  kmSurvTicks.forEach((v,i)=>{
    axisLine(g,92,Y(v),95.5,Y(v),2.5,'y-axis-tick');
    label(g,88,Y(v)+6.5,kmSurvLabels[i],18,'end','y-tick-label');
  });
  kmTimeTicks.forEach((v,i)=>{
    axisLine(g,X(v),342.3,X(v),348,2.5,'x-axis-tick');
    label(g,X(v)+1,364,kmTimeLabels[i],18,'middle','x-tick-label');
    axisLine(g,X(v),441.7,X(v),447,2.5,'risk-x-axis-tick');
    label(g,X(v)+1,462.7,kmTimeLabels[i],18,'middle','risk-x-tick-label');
    label(g,X(v)-2.5,418,String(high.risk[i]),18.3,'middle','risk-count-high');
    label(g,X(v)-2.5,438,String(low.risk[i]),18.3,'middle','risk-count-low');
  });
  axisLine(g,95.5,396.7,95.5,443.5,3.5,'risk-y-axis-line');
  axisLine(g,93.8,441.7,525.8,441.7,3.5,'risk-x-axis-line');
  axisLine(g,92,411.7,95.5,411.7,2.5,'risk-y-tick-high');
  axisLine(g,92,431.7,95.5,431.7,2.5,'risk-y-tick-low');
  [[high,RED,'high',350],[low,TEAL,'low',441.5]].forEach(s=>{
    const c=s[0],col=s[1],nm=s[2],lx=s[3];
    const d=c.t.map((t,i)=>(i?'L':'M')+X(t).toFixed(1)+','+Y(c.s[i]).toFixed(1)).join('');
    const line=mk(g,'path',{d:d,fill:'none',stroke:col,'stroke-width':4.2,'stroke-linejoin':'miter'});
    
    
    c.censor.forEach(t=>{
      const y=Y(survAt(t,c.t,c.s));
      const m=mk(g,'path',{d:'M'+(X(t)-4).toFixed(1)+','+y.toFixed(1)+'h8M'+X(t).toFixed(1)+','+(y-5.5).toFixed(1)+'v11',stroke:col,'stroke-width':2.4,fill:'none'});
      
      
    });
    const key=mk(g,'path',{d:'M'+lx+',99.3h26.5M'+(lx+13.2)+',94.3v10',stroke:col,'stroke-width':3.4,fill:'none'});
    
    
  });
}
drawKm('km-a',{t:kmAHighT,s:kmAHighS,censor:kmAHighCensor,risk:kmARiskHigh},{t:kmALowT,s:kmALowS,censor:kmALowCensor,risk:kmARiskLow});
drawKm('km-b',{t:kmBHighT,s:kmBHighS,censor:kmBHighCensor,risk:kmBRiskHigh},{t:kmBLowT,s:kmBLowS,censor:kmBLowCensor,risk:kmBRiskLow});
drawKm('km-c',{t:kmCHighT,s:kmCHighS,censor:kmCHighCensor,risk:kmCRiskHigh},{t:kmCLowT,s:kmCLowS,censor:kmCLowCensor,risk:kmCRiskLow});
drawKm('km-d',{t:kmDHighT,s:kmDHighS,censor:kmDHighCensor,risk:kmDRiskHigh},{t:kmDLowT,s:kmDLowS,censor:kmDLowCensor,risk:kmDRiskLow});

function rocPath(X,Y,fx,fy){return smooth(fx.map((v,i)=>[X(v),Y(fy[i])]));}
function drawRoc(id,mid,up,lo,edge){
  const g=document.getElementById(id);
  const X=linear(0,1,111.8,519.8),Y=linear(0,1,1025.6,631);
  const frame=mk(g,'rect',{x:95.7,y:616.1,width:440.3,height:424.8,fill:'none',stroke:'#000','stroke-width':3.6});
  
  
  const legendBox=mk(g,'rect',{x:199,y:961.3,width:337,height:79.6,fill:'none',stroke:'#000','stroke-width':3.4});
  
  
  [[lo,'roc-ci-lower'],[up,'roc-ci-upper']].forEach(s=>{
    const p=mk(g,'path',{d:rocPath(X,Y,s[0][0],s[0][1]),fill:'none',stroke:MAGENTA,'stroke-width':4,'stroke-dasharray':'3.6 8 13 8'});
    
    
  });
  const curve=mk(g,'path',{d:rocPath(X,Y,mid[0],mid[1]),fill:'none',stroke:CORAL,'stroke-width':4.4});
  
  
  if(edge){
    const em=axisLine(g,X(1),Y(1),X(1),616.1,3,'roc-edge-mark');
    em.setAttribute('stroke-linecap','butt');
  }
  const k1=axisLine(g,217.9,987.3,261.8,987.3,4.4,'legend-key-roc-curve');
  k1.setAttribute('stroke',CORAL);
  const k2=axisLine(g,217.9,1014.1,261.8,1014.1,4,'legend-key-confidence-interval');
  k2.setAttribute('stroke',MAGENTA);
  k2.setAttribute('stroke-dasharray','3.6 8 13 8');
  rocTicks.forEach((v,i)=>{
    axisLine(g,X(v),1040.9,X(v),1056,3.4,'x-axis-tick');
    axisLine(g,90.5,Y(v),95.7,Y(v),3.4,'y-axis-tick');
    label(g,X(v)+.5,1074,rocLabels[i],22,'middle','x-tick-label');
    label(g,76,Y(v),rocLabels[i],22,'middle','y-tick-label',true);
    const gx=axisLine(g,X(v),616.1,X(v),1040.9,2.3,'grid-line-vertical');
    gx.setAttribute('stroke','#cfcfcf');
    gx.setAttribute('stroke-dasharray','2.3 9.2');
    const gy=axisLine(g,95.7,Y(v),536,Y(v),2.3,'grid-line-horizontal');
    gy.setAttribute('stroke','#cfcfcf');
    gy.setAttribute('stroke-dasharray','2.3 9.2');
  });
}
drawRoc('roc-e',[rocEFpr,rocETpr],[rocEUpFpr,rocEUpTpr],[rocELoFpr,rocELoTpr],true);
drawRoc('roc-f',[rocFFpr,rocFTpr],[rocFUpFpr,rocFUpTpr],[rocFLoFpr,rocFLoTpr],false);
drawRoc('roc-g',[rocGFpr,rocGTpr],[rocGUpFpr,rocGUpTpr],[rocGLoFpr,rocGLoTpr],false);
drawRoc('roc-h',[rocHFpr,rocHTpr],[rocHUpFpr,rocHUpTpr],[rocHLoFpr,rocHLoTpr],false);

function smooth(pts){
  let d='M'+pts[0][0].toFixed(1)+','+pts[0][1].toFixed(1);
  for(let i=0;i<pts.length-1;i++){
    const p0=pts[Math.max(i-1,0)],p1=pts[i],p2=pts[i+1],p3=pts[Math.min(i+2,pts.length-1)];
    d+='C'+(p1[0]+(p2[0]-p0[0])/6).toFixed(1)+','+(p1[1]+(p2[1]-p0[1])/6).toFixed(1)+' '+(p2[0]-(p3[0]-p1[0])/6).toFixed(1)+','+(p2[1]-(p3[1]-p1[1])/6).toFixed(1)+' '+p2[0].toFixed(1)+','+p2[1].toFixed(1);
  }
  return d;
}
function drawBoxPanel(L,ticks,groups){
  const g=document.getElementById(L.id);
  const Y=linear(L.yRef[0],L.yRef[2],L.yRef[1],L.yRef[3]);
  const catW=L.cats[1]-L.cats[0];
  const cols=[TEAL,RED],names=['normal','kirc'];
  groups.forEach((grp,i)=>{
    const cx=L.cats[i],nm=names[i],col=cols[i];
    const right=grp.violinV.map((v,k)=>[cx+grp.violinW[k]*catW,Y(v)]);
    const left=grp.violinV.map((v,k)=>[cx-grp.violinW[k]*catW,Y(v)]).reverse();
    const violin=mk(g,'path',{d:smooth(right.concat(left))+'Z',fill:col,'fill-opacity':.38,stroke:'#000','stroke-width':3,'stroke-linejoin':'round'});
    
    
    const wh=axisLine(g,cx,Y(grp.whisker[0]),cx,Y(grp.whisker[1]),3.6,'whisker-'+nm);
    wh.setAttribute('stroke-linecap','butt');
    const dot=(v,j)=>{
      const c=mk(g,'circle',{cx:(cx+j*catW).toFixed(1),cy:Y(v).toFixed(1),r:5,fill:col==RED?'#C2062E':'#048A85',stroke:'#000','stroke-width':3.4});
      
      
    };
    grp.bulk.forEach((v,k)=>dot(v,sharedJitter[k%sharedJitter.length]));
    grp.bulk2.forEach((v,k)=>dot(v,sharedJitter2[k%sharedJitter2.length]));
    grp.tail.forEach((v,k)=>dot(v,grp.tailJit[k]));
  });
  groups.forEach((grp,i)=>{
    const cx=L.cats[i],nm=names[i],h=.382*catW;
    const [q1,nlo,med,nhi,q3]=grp.box.map(Y);
    const P=a=>a.map(p=>p[0].toFixed(1)+','+p[1].toFixed(1)).join(' ');
    const upper=mk(g,'polygon',{points:P([[cx-h,q3],[cx+h,q3],[cx+h,nhi],[cx+h/2,med],[cx-h/2,med],[cx-h,nhi]]),fill:cols[i]==RED?'#BC0528':'#00827E','fill-opacity':.93,stroke:'#000','stroke-width':3.2,'stroke-linejoin':'round'});
    
    
    const lower=mk(g,'polygon',{points:P([[cx-h,q1],[cx+h,q1],[cx+h,nlo],[cx+h/2,med],[cx-h/2,med],[cx-h,nlo]]),fill:cols[i]==RED?'#BC0528':'#00827E','fill-opacity':.93,stroke:'#000','stroke-width':3.2,'stroke-linejoin':'round'});
    
    
  });
  const [l,r,t,b]=L.frame;
  const fr=mk(g,'rect',{x:l,y:t,width:r-l,height:b-t,fill:'none',stroke:'#000','stroke-width':3.2});
  
  
  ticks.forEach(v=>{
    axisLine(g,l-14,Y(v),l,Y(v),3.2,'y-axis-tick');
    label(g,l-21.5,Y(v)+8.5,String(v),25,'end','y-tick-label');
  });
  boxCategories.forEach((c,i)=>{
    axisLine(g,L.cats[i],b,L.cats[i],b+13,3.2,'x-axis-tick');
    label(g,L.cats[i]+2.8,b+36.3,c,26.4,'middle','x-tick-label');
  });
  label(g,L.pX,L.pY,'P < 0.001',27,'middle','p-value');
}
drawBoxPanel({id:'box-i',frame:[98.2,540,1234.3,1666.9],cats:[218.6,419.6],yRef:[7,1293.6,3,1643.6],pX:319,pY:1263.4},iTicks,[
 {box:iNormalBox,whisker:iNormalWhisker,violinV:iNormalViolinV,violinW:iNormalViolinW,tail:iNormalTail,tailJit:iNormalTailJit,bulk:iNormalBulk,bulk2:iNormalBulk2},
 {box:iKircBox,whisker:iKircWhisker,violinV:iKircViolinV,violinW:iKircViolinW,tail:iKircTail,tailJit:iKircTailJit,bulk:iKircBulk,bulk2:iKircBulk2}]);
drawBoxPanel({id:'box-j',frame:[661,1103.5,1234.3,1666.9],cats:[781.4,982.5],yRef:[6,1303.4,1,1662.5],pX:881.5,pY:1263.4},jTicks,[
 {box:jNormalBox,whisker:jNormalWhisker,violinV:jNormalViolinV,violinW:jNormalViolinW,tail:jNormalTail,tailJit:jNormalTailJit,bulk:jNormalBulk,bulk2:jNormalBulk2},
 {box:jKircBox,whisker:jKircWhisker,violinV:jKircViolinV,violinW:jKircViolinW,tail:jKircTail,tailJit:jKircTailJit,bulk:jKircBulk,bulk2:jKircBulk2}]);
drawBoxPanel({id:'box-k',frame:[1225.7,1668,1238.3,1672.4],cats:[1345.7,1547.1],yRef:[9,1246.7,4,1612],pX:1446.5,pY:1268.1},kTicks,[
 {box:kNormalBox,whisker:kNormalWhisker,violinV:kNormalViolinV,violinW:kNormalViolinW,tail:kNormalTail,tailJit:kNormalTailJit,bulk:kNormalBulk,bulk2:kNormalBulk2},
 {box:kKircBox,whisker:kKircWhisker,violinV:kKircViolinV,violinW:kKircViolinW,tail:kKircTail,tailJit:kKircTailJit,bulk:kKircBulk,bulk2:kKircBulk2}]);
drawBoxPanel({id:'box-l',frame:[1800,2242.5,1234.3,1666.9],cats:[1920.4,2121.4],yRef:[2,1365.9,0,1648.7],pX:2020.5,pY:1263.4},lTicks,[
 {box:lNormalBox,whisker:lNormalWhisker,violinV:lNormalViolinV,violinW:lNormalViolinW,tail:lNormalTail,tailJit:lNormalTailJit,bulk:lNormalBulk,bulk2:lNormalBulk2},
 {box:lKircBox,whisker:lKircWhisker,violinV:lKircViolinV,violinW:lKircViolinW,tail:lKircTail,tailJit:lKircTailJit,bulk:lKircBulk,bulk2:lKircBulk2}]);

function drawPaired(L,ticks,tickLabels,normal,kirc,nBox,kBox,nWh,kWh){
  const g=document.getElementById(L.id);
  const Y=linear(L.yRef[0],L.yRef[2],L.yRef[1],L.yRef[3]);
  const hw=48.2;
  [[L.cats[0],nBox,'#00857F','normal'],[L.cats[1],kBox,'#BB0021','kirc']].forEach(s=>{
    const cx=s[0],b=s[1];
    const r=mk(g,'rect',{x:cx-hw,y:Y(b[2]),width:2*hw,height:Y(b[0])-Y(b[2]),fill:s[2],stroke:'#000','stroke-width':3.6});
    
    
    axisLine(g,cx-hw,Y(b[1]),cx+hw,Y(b[1]),5,'box-median-'+s[3]);
  });
  axisLine(g,L.cats[0],Y(nWh[0]),L.cats[0],Y(nWh[1]),4.4,'whisker-normal');
  axisLine(g,L.cats[1],Y(kWh[0]),L.cats[1],Y(kWh[1]),4.4,'whisker-kirc');
  for(let i=0;i<normal.length&&i<kirc.length;i++){
    axisLine(g,L.cats[0],Y(normal[i]),L.cats[1],Y(kirc[i]),4,'paired-line');
    const a=mk(g,'circle',{cx:L.cats[0],cy:Y(normal[i]).toFixed(1),r:6,fill:'#000'});
    
    
    const b=mk(g,'circle',{cx:L.cats[1],cy:Y(kirc[i]).toFixed(1),r:6,fill:'#000'});
    
    
  }
  axisLine(g,L.axisX,1913.5,L.axisX,2457.7,3.6,'y-axis-line');
  axisLine(g,L.axisX-1.8,2455.9,L.axisEnd,2455.9,3.6,'x-axis-line');
  ticks.forEach((v,i)=>{
    axisLine(g,L.axisX-8,Y(v),L.axisX,Y(v),3.2,'y-axis-tick');
    label(g,L.axisX-14,Y(v)+9.3,tickLabels[i],26,'end','y-tick-label');
  });
  boxCategories.forEach((c,i)=>{
    axisLine(g,L.cats[i],2455.9,L.cats[i],2465,3.2,'x-axis-tick');
    label(g,L.cats[i]+(i?9:7),2493.8,c,26.4,'middle','x-tick-label');
  });
}
drawPaired({id:'pair-m',cats:[214.3,403.6],yRef:[7,1953.3,3,2428.3],axisX:101.8,axisEnd:516.8},mTicks,mTickLabels,mNormal,mKirc,mNormalBox,mKircBox,mNormalWhisker,mKircWhisker);
drawPaired({id:'pair-n',cats:[781.1,970.4],yRef:[5,1962,2,2333.8],axisX:667.9,axisEnd:1083.2},nTicks,nTickLabels,nNormal,nKirc,nNormalBox,nKircBox,nNormalWhisker,nKircWhisker);
drawPaired({id:'pair-o',cats:[1345.7,1534.6],yRef:[8,1995.9,5,2415.2],axisX:1232.9,axisEnd:1647.9},oTicks,oTickLabels,oNormal,oKirc,oNormalBox,oKircBox,oNormalWhisker,oKircWhisker);
drawPaired({id:'pair-p',cats:[1923.6,2100.4],yRef:[.9,2031.8,0,2437.5],axisX:1817.5,axisEnd:2206.8},pTicks,pTickLabels,pNormal,pKirc,pNormalBox,pKircBox,pNormalWhisker,pKircWhisker);
</script>
</body>
</html>
